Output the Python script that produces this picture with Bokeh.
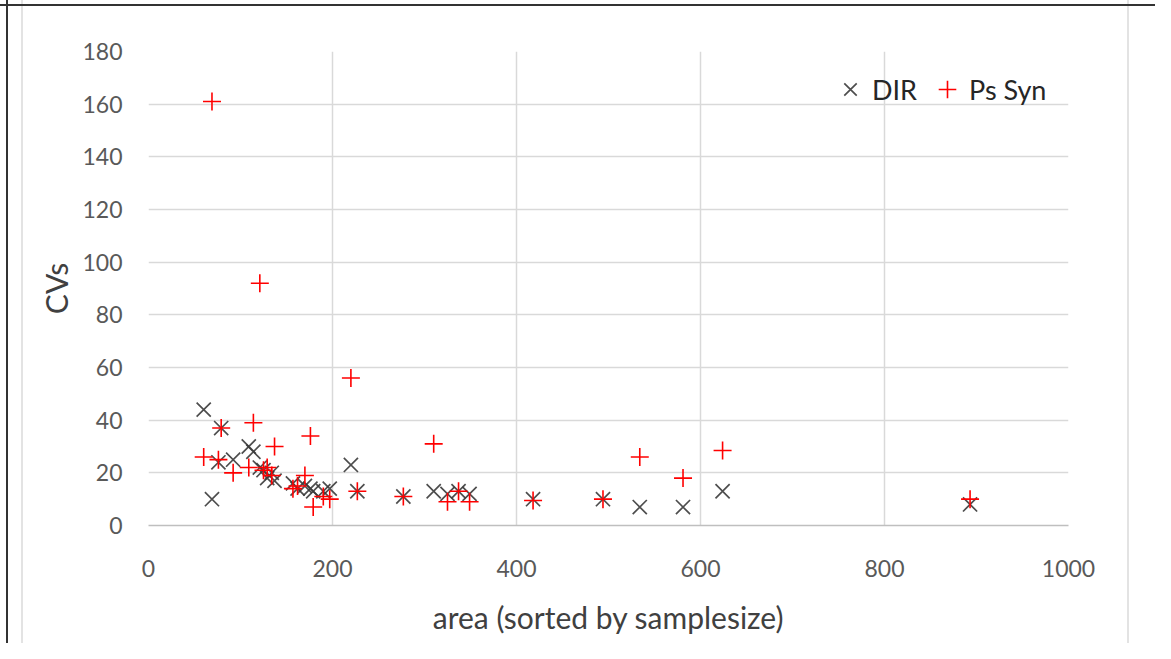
from bokeh.plotting import figure
from bokeh.models import ColumnDataSource, Legend, LegendItem, FixedTicker
from bokeh.embed import file_html
from bokeh.resources import INLINE

# ---- data ----
area = [60, 69, 76, 79, 92, 109, 114, 121, 125, 129, 134, 137, 157, 162, 170,
        176, 179, 190, 197, 220, 227, 277, 310, 325, 337, 349, 418, 494, 534,
        581, 624, 893]
cv_dir = [44, 10, 24, 37, 25, 30, 28, 22, 21, 18, 20, 17, 16, 14, 15,
          14, 13, 13, 14, 23, 13, 11, 13, 12, 13, 12, 10, 10, 7,
          7, 13, 8]
cv_ps = [26, 161, 25, 37, 20, 22, 39, 92, 21, 22, 19, 30, 14, 15, 19,
         34, 7, 11, 10, 56, 13, 11, 31, 9, 13, 9, 9.5, 10, 26,
         18, 28.5, 10]
x_ticks = [0, 200, 400, 600, 800, 1000]
y_ticks = [0, 20, 40, 60, 80, 100, 120, 140, 160, 180]
series_names = ["DIR", "Ps Syn"]

FONT = "Lato"
TEXT = "#595959"

src = ColumnDataSource(dict(area=area, cv_dir=cv_dir, cv_ps=cv_ps))

W, H = 1155, 643
p = figure(width=W, height=H, output_backend="svg", toolbar_location=None,
           x_range=(0, 1000), y_range=(0, 180),
           min_border_left=148, min_border_right=W - 1068,
           min_border_top=51, min_border_bottom=H - 525)
p.background_fill_color = "white"
p.border_fill_alpha = 0
p.outline_line_color = None
# thin frame lines of the source image (outside the plot area)
p.styles = {
    "background-color": "white",
    "background-image": ", ".join([
        "linear-gradient(to right, transparent 6px, #333 6px, #333 8px, transparent 8px)",
        "linear-gradient(to bottom, transparent 4px, #333 4px, #333 6px, transparent 6px)",
        "linear-gradient(to right, transparent 21px, #e3e3e3 21px, #e3e3e3 23px, transparent 23px)",
        "linear-gradient(to right, transparent 1127px, #e3e3e3 1127px, #e3e3e3 1129px, transparent 1129px)",
    ]),
    "background-size": "100% 100%, 100% 100%, 100% 100%, 100% 100%",
    "background-repeat": "no-repeat",
}

r_dir = p.scatter("area", "cv_dir", source=src, marker="x", size=20,
                  line_color="#3a3a3a", line_width=1.7, line_alpha=0.9)
r_ps = p.scatter("area", "cv_ps", source=src, marker="cross", size=18,
                 line_color="#ff0000", line_width=1.6)

for ax in (p.xaxis[0], p.yaxis[0]):
    ax.major_tick_line_color = None
    ax.minor_tick_line_color = None
    ax.major_tick_out = 0
    ax.major_tick_in = 0
    ax.minor_tick_out = 0
    ax.major_label_text_font = FONT
    ax.major_label_text_font_size = "23px"
    ax.major_label_text_color = TEXT
    ax.axis_label_text_font = FONT
    ax.axis_label_text_font_size = "30px"
    ax.axis_label_text_font_style = "normal"
    ax.axis_label_text_color = "#404040"

p.xaxis.ticker = FixedTicker(ticks=x_ticks)
p.yaxis.ticker = FixedTicker(ticks=y_ticks)
p.xaxis.axis_line_color = "#bfbfbf"
p.xaxis.axis_line_width = 1.5
p.yaxis.axis_line_color = None
p.xaxis.major_label_standoff = 34
p.yaxis.major_label_standoff = 26
p.xaxis.axis_label = "area (sorted by samplesize)"
p.yaxis.axis_label = "CVs"
p.xaxis.axis_label_standoff = 19
p.yaxis.axis_label_standoff = 5

p.xgrid.ticker = FixedTicker(ticks=x_ticks)
p.ygrid.ticker = FixedTicker(ticks=y_ticks)
p.grid.grid_line_color = "#d9d9d9"
p.grid.grid_line_width = 1.5

legend = Legend(items=[LegendItem(label=series_names[0], renderers=[r_dir]),
                       LegendItem(label=series_names[1], renderers=[r_ps])],
                orientation="horizontal", location=(680, 414),
                background_fill_alpha=0, border_line_color=None,
                label_text_font=FONT, label_text_font_size="27px",
                label_text_color="#262626", glyph_width=44, glyph_height=44,
                label_standoff=-10, spacing=8, padding=0, margin=0)
p.add_layout(legend, "center")

open("out.html", "w").write(file_html(p, INLINE))
